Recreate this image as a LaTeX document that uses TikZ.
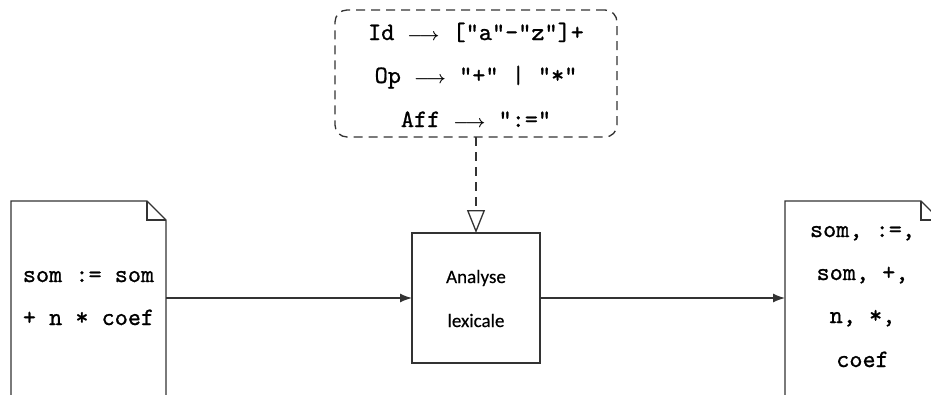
\documentclass[tikz,border=0pt]{standalone}
\usepackage{amsmath}
\usepackage{fontspec}
\newfontfamily\labelfont{Carlito}[FakeBold=0.3]
\newfontfamily\codefont{lmmono10-regular.otf}[FakeBold=0.9]
\usetikzlibrary{arrows.meta}
% long arrow used inside the grammar rules
\newcommand\yields{{\fontsize{16}{16}\selectfont$\boldsymbol{\longrightarrow}$}}
\begin{document}
\begin{tikzpicture}[x=1pt,y=-1pt,
  line/.style={draw=black!80, line width=1.3pt},
  docshape/.style={inner sep=0pt, outer sep=0pt, minimum width=155pt, minimum height=230pt},
  procbox/.style={line, inner sep=0pt, outer sep=0pt, minimum width=128pt, minimum height=130pt},
  grambox/.style={line, rounded corners=12pt, dash pattern=on 9pt off 6pt,
                  inner sep=0pt, outer sep=0pt, minimum width=282pt, minimum height=127pt},
  mono/.style={font=\fontsize{25}{25}\selectfont\codefont, text=black, anchor=base, inner sep=0pt},
  sans/.style={font=\fontsize{19}{19}\selectfont\labelfont, text=black, anchor=base, inner sep=0pt},
  flow/.style={line, -{Latex[length=12pt, width=9pt]}},
  fold/.store in=\foldsize, fold=19pt]
\useasboundingbox (0,0) rectangle (931,394);
\clip (0,0) rectangle (931,394);

% source document, lexical analyser, token list, grammar rules
\node[docshape] (src) at (88.5,316) {};
\node[docshape] (dst) at (862.5,316) {};
\node[procbox] (lex) at (476,298) {};
\node[grambox] (gram) at (476,73.5) {};

% document outlines with a folded corner
\foreach \d in {src,dst}{
  \draw[line, fill=white] (\d.north west) -- ([xshift=-\foldsize]\d.north east)
    -- ([yshift=-\foldsize]\d.north east) -- (\d.south east) -- (\d.south west) -- cycle;
  \draw[line] ([xshift=-\foldsize]\d.north east) |- ([yshift=-\foldsize]\d.north east);
}

% grammar rules
\node[mono] (g1) at (476,40)  {Id \yields{} ["a"-"z"]+};
\node[mono] (g2) at (476,83)  {Op \yields{} "+" | "*"};
\node[mono] (g3) at (476,127) {Aff \yields{} ":="};

% source text
\node[mono] (s1) at (88.5,282) {som := som};
\node[mono] (s2) at (88.5,325) {+ n * coef};

% analyser label
\node[sans] (l1) at (476,283) {Analyse};
\node[sans] (l2) at (476,327) {lexicale};

% tokens
\node[mono] (t1) at (862.5,237) {som, :=,};
\node[mono] (t2) at (862.5,280) {som, +,};
\node[mono] (t3) at (862.5,323) {n, *,};
\node[mono] (t4) at (862.5,367) {coef};

% connectors
\draw[flow] (lex.west -| src.east) -- (lex.west);
\draw[flow] (lex.east) -- (lex.east -| dst.west);
\draw[line, dash pattern=on 9pt off 6pt,
      -{Triangle[open, length=23pt, width=18pt, fill=white]}] (gram.south) -- (lex.north);
\end{tikzpicture}
\end{document}
